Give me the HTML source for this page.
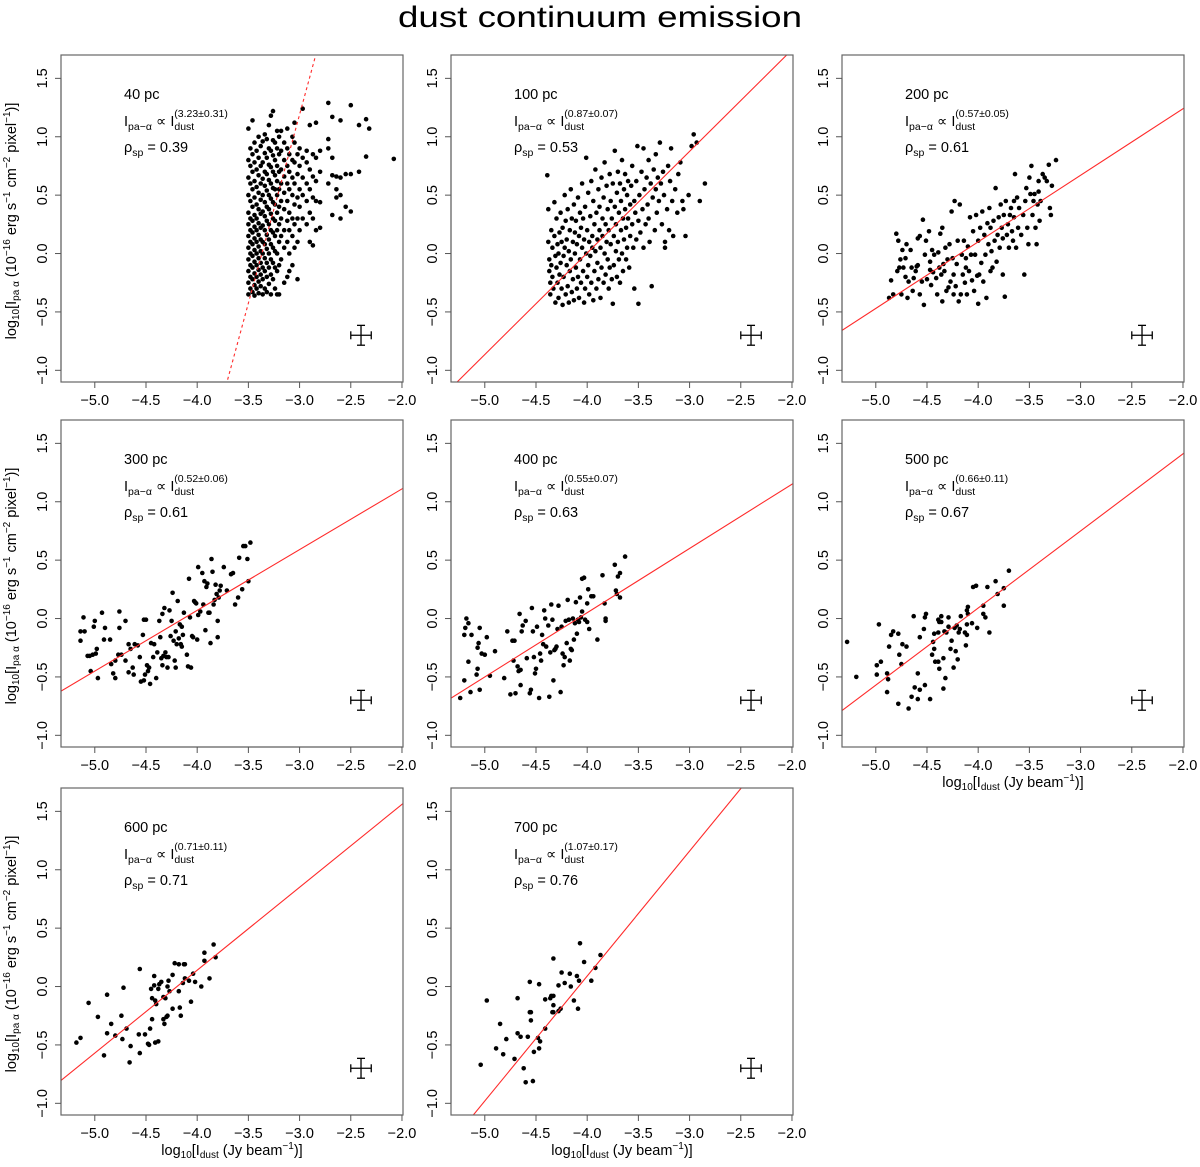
<!DOCTYPE html>
<html><head><meta charset="utf-8"><title>dust continuum emission</title>
<style>
html,body{margin:0;padding:0;background:#fff;}
svg{display:block;font-family:"Liberation Sans",Arial,sans-serif;}
</style></head>
<body>
<svg id="fig" width="1200" height="1167" viewBox="0 0 1200 1167" xmlns="http://www.w3.org/2000/svg">
<text x="600" y="27" text-anchor="middle" font-size="30" textLength="404" lengthAdjust="spacingAndGlyphs">dust continuum emission</text>
</svg>
<script>
// ---- data ----
const panelLabels = ["40 pc","100 pc","200 pc","300 pc","400 pc","500 pc","600 pc","700 pc"];
const slopes = [3.23,0.87,0.57,0.52,0.55,0.66,0.71,1.07];
const slopeErrs = [0.31,0.07,0.05,0.06,0.07,0.11,0.11,0.17];
const intercepts = [10.88,3.485,2.38,2.15,2.25,2.73,2.98,4.37];
const rhos = ["0.39","0.53","0.61","0.61","0.63","0.67","0.71","0.76"];
const xTicks = [-5.0,-4.5,-4.0,-3.5,-3.0,-2.5,-2.0];
const xTickLabels = ["\u22125.0","\u22124.5","\u22124.0","\u22123.5","\u22123.0","\u22122.5","\u22122.0"];
const yTicks = [-1.0,-0.5,0.0,0.5,1.0,1.5];
const yTickLabels = ["\u22121.0","\u22120.5","0.0","0.5","1.0","1.5"];
const errBarCenter = [-2.4,-0.7];
const errBarHalf = [0.1,0.085];

// 40 pc: columns of points {x, ys}
const p40Cols = [
[-3.50,[-0.35,-0.25,-0.15,-0.05,0.05,0.15,0.25,0.35,0.5,0.65,0.8,1.07]],
[-3.48,[-0.3,-0.2,-0.1,0.0,0.1,0.2,0.3,0.45,0.6,0.75,0.9]],
[-3.46,[-0.33,-0.22,-0.12,-0.02,0.08,0.18,0.28,0.4,0.55,0.7,0.85,1.14]],
[-3.44,[-0.36,-0.27,-0.17,-0.07,0.03,0.13,0.23,0.33,0.48,0.62,0.78,0.95]],
[-3.42,[-0.3,-0.2,-0.1,0.0,0.1,0.2,0.3,0.42,0.57,0.72,0.88]],
[-3.40,[-0.34,-0.24,-0.14,-0.04,0.06,0.16,0.26,0.38,0.52,0.67,0.82,1.0]],
[-3.38,[-0.28,-0.18,-0.08,0.02,0.12,0.22,0.34,0.46,0.6,0.75,0.92]],
[-3.36,[-0.35,-0.22,-0.12,0.0,0.1,0.24,0.36,0.5,0.64,0.78,0.96]],
[-3.34,[-0.3,-0.15,-0.04,0.08,0.2,0.32,0.44,0.58,0.7,0.86,1.02]],
[-3.32,[-0.33,-0.2,-0.08,0.04,0.16,0.28,0.4,0.54,0.68,0.82,0.98]],
[-3.30,[-0.26,-0.12,0.0,0.12,0.25,0.38,0.5,0.63,0.76,0.9,1.1]],
[-3.28,[-0.35,-0.18,-0.05,0.08,0.2,0.34,0.47,0.6,0.74,0.88,1.18]],
[-3.26,[-0.22,-0.08,0.05,0.18,0.3,0.44,0.56,0.7,0.84,0.97,1.22]],
[-3.24,[-0.3,-0.12,0.02,0.15,0.28,0.42,0.55,0.67,0.8,0.95]],
[-3.22,[-0.35,-0.15,0.0,0.2,0.35,0.5,0.62,0.75,0.9,1.05]],
[-3.20,[-0.35,-0.1,0.1,0.25,0.4,0.55,0.7,0.85,1.0]],
[-3.18,[-0.05,0.15,0.3,0.45,0.6,0.72,0.88,1.05]],
[-3.15,[-0.25,0.05,0.2,0.38,0.52,0.66,0.8,0.95]],
[-3.12,[-0.2,0.1,0.28,0.45,0.6,0.75,0.9,1.07]],
[-3.10,[-0.15,0.0,0.2,0.35,0.55,0.7,0.85]],
[-3.07,[-0.1,0.15,0.3,0.5,0.65,0.8,1.0]],
[-3.05,[0.05,0.25,0.42,0.6,0.78,0.95,1.12]],
[-3.02,[-0.22,0.1,0.3,0.48,0.68,0.85]],
[-3.00,[0.2,0.4,0.55,0.75,0.9]],
[-2.97,[0.3,0.5,0.65,0.82,1.24]],
[-2.93,[0.25,0.45,0.6,0.78,0.88]],
[-2.90,[0.1,0.35,0.55,0.72,1.1]],
[-2.87,[0.07,0.3,0.48,0.66,0.85]],
[-2.84,[0.2,0.45,0.62,0.82,1.12]],
[-2.80,[0.22,0.44,0.7,0.88]],
[-2.72,[0.6,0.98,1.29,0.9]],
[-2.68,[0.33,0.67,0.82,1.17]],
[-2.64,[0.48,0.55,0.66]],
[-2.60,[0.3,0.5,0.65,1.14]],
[-2.55,[0.4,0.68]],
[-2.50,[1.27,0.36,0.68]],
[-2.42,[1.1,0.7]],
[-2.35,[1.15,0.83]],
[-2.32,[1.07]],
[-2.08,[0.81]]
];

const p100 = [[-4.39,0.67],[-4.38,0.38],[-4.38,0.1],[-4.37,-0.05],[-4.37,-0.15],[-4.36,-0.25],[-4.36,-0.35],[-4.35,0.2],[-4.35,-0.1],[-4.34,0.05],[-4.34,-0.2],[-4.33,-0.3],[-4.32,0.44],[-4.32,0.15],[-4.31,-0.42],[-4.31,-0.02],[-4.30,0.3],[-4.30,-0.12],[-4.29,0.08],[-4.29,-0.25],[-4.28,-0.38],[-4.28,0.0],[-4.27,0.18],[-4.27,-0.18],[-4.26,0.35],[-4.26,-0.08],[-4.25,-0.3],[-4.25,0.1],[-4.24,-0.44],[-4.24,0.22],[-4.23,-0.02],[-4.23,-0.2],[-4.22,0.5],[-4.22,0.05],[-4.21,-0.35],[-4.21,0.28],[-4.20,-0.1],[-4.20,0.12],[-4.19,-0.28],[-4.19,0.38],[-4.18,-0.42],[-4.18,0.02],[-4.17,0.2],[-4.17,-0.15],[-4.16,0.55],[-4.16,-0.05],[-4.15,0.3],[-4.15,-0.33],[-4.14,0.1],[-4.14,-0.22],[-4.13,0.42],[-4.13,-0.4],[-4.12,0.0],[-4.12,0.18],[-4.11,-0.12],[-4.11,0.28],[-4.10,-0.3],[-4.10,0.08],[-4.09,0.48],[-4.09,-0.2],[-4.08,0.15],[-4.08,-0.38],[-4.07,0.35],[-4.07,-0.05],[-4.06,0.22],[-4.06,-0.25],[-4.05,0.05],[-4.05,0.6],[-4.04,-0.15],[-4.04,0.3],[-4.03,-0.42],[-4.03,0.12],[-4.02,-0.3],[-4.02,0.4],[-4.01,0.82],[-4.01,0.0],[-4.00,0.2],[-4.00,-0.2],[-3.99,0.52],[-3.99,-0.1],[-3.98,0.1],[-3.98,-0.35],[-3.97,0.32],[-3.97,-0.02],[-3.96,0.62],[-3.96,-0.25],[-3.95,0.15],[-3.95,0.05],[-3.94,-0.4],[-3.94,0.45],[-3.93,0.25],[-3.93,-0.15],[-3.92,0.72],[-3.92,0.02],[-3.91,-0.3],[-3.91,0.35],[-3.90,0.12],[-3.90,-0.08],[-3.89,0.55],[-3.89,-0.22],[-3.88,0.2],[-3.88,0.4],[-3.87,-0.38],[-3.87,0.05],[-3.86,0.65],[-3.86,-0.12],[-3.85,0.3],[-3.85,0.15],[-3.84,-0.25],[-3.84,0.48],[-3.83,0.0],[-3.83,0.78],[-3.82,0.25],[-3.82,-0.18],[-3.81,0.1],[-3.81,0.58],[-3.80,-0.05],[-3.80,0.38],[-3.79,-0.3],[-3.79,0.2],[-3.78,0.68],[-3.78,-0.12],[-3.77,0.45],[-3.77,0.08],[-3.76,-0.22],[-3.76,0.3],[-3.75,0.6],[-3.75,-0.43],[-3.74,0.15],[-3.74,-0.1],[-3.73,0.88],[-3.73,0.4],[-3.72,0.02],[-3.72,0.25],[-3.71,-0.2],[-3.71,0.52],[-3.70,0.7],[-3.70,0.1],[-3.69,-0.05],[-3.69,0.35],[-3.68,0.6],[-3.68,-0.25],[-3.67,0.2],[-3.67,0.45],[-3.66,0.8],[-3.66,0.0],[-3.65,0.3],[-3.65,-0.15],[-3.64,0.55],[-3.64,0.12],[-3.63,0.68],[-3.63,0.38],[-3.62,-0.05],[-3.62,0.22],[-3.61,0.5],[-3.61,0.05],[-3.60,0.62],[-3.60,0.3],[-3.59,-0.12],[-3.58,0.42],[-3.58,0.15],[-3.57,0.58],[-3.56,0.25],[-3.56,0.75],[-3.55,0.05],[-3.54,0.45],[-3.54,-0.3],[-3.53,0.35],[-3.52,0.62],[-3.52,0.12],[-3.51,0.92],[-3.50,0.28],[-3.50,-0.43],[-3.49,0.5],[-3.48,0.18],[-3.47,0.7],[-3.46,0.38],[-3.45,0.05],[-3.45,0.9],[-3.44,0.55],[-3.43,0.25],[-3.42,0.65],[-3.41,0.42],[-3.40,0.8],[-3.40,0.3],[-3.39,0.1],[-3.38,0.6],[-3.37,-0.28],[-3.36,0.48],[-3.35,0.72],[-3.34,0.2],[-3.33,0.85],[-3.33,0.55],[-3.32,0.35],[-3.31,0.65],[-3.30,0.45],[-3.29,0.95],[-3.28,0.6],[-3.27,0.25],[-3.26,0.7],[-3.25,0.5],[-3.24,0.1],[-3.24,0.05],[-3.22,0.38],[-3.21,0.75],[-3.20,0.2],[-3.19,0.62],[-3.18,0.9],[-3.17,0.45],[-3.16,0.15],[-3.14,0.55],[-3.12,0.35],[-3.11,0.68],[-3.09,0.78],[-3.07,0.45],[-3.06,0.38],[-3.04,0.15],[-3.01,0.5],[-2.98,0.92],[-2.96,1.02],[-2.93,0.95],[-2.90,0.45],[-2.85,0.6]];

const p200 = [[-4.87,-0.38],[-4.85,-0.23],[-4.83,-0.35],[-4.80,0.17],[-4.79,-0.15],[-4.78,0.11],[-4.77,-0.12],[-4.76,-0.05],[-4.75,-0.35],[-4.74,0.03],[-4.73,-0.12],[-4.71,-0.20],[-4.71,-0.04],[-4.70,0.08],[-4.69,-0.38],[-4.68,-0.24],[-4.66,0.03],[-4.65,-0.12],[-4.64,-0.32],[-4.63,-0.21],[-4.61,-0.15],[-4.60,-0.11],[-4.59,-0.10],[-4.59,0.13],[-4.57,0.15],[-4.57,-0.35],[-4.55,-0.24],[-4.54,0.29],[-4.53,-0.44],[-4.52,-0.01],[-4.51,0.11],[-4.50,-0.22],[-4.48,0.19],[-4.47,-0.14],[-4.47,-0.07],[-4.46,-0.27],[-4.45,0.03],[-4.44,-0.16],[-4.43,-0.01],[-4.41,-0.21],[-4.40,-0.35],[-4.39,0.01],[-4.38,-0.12],[-4.37,0.17],[-4.36,-0.18],[-4.35,-0.41],[-4.35,0.22],[-4.34,-0.09],[-4.33,-0.15],[-4.32,0.05],[-4.31,-0.32],[-4.30,-0.05],[-4.29,-0.29],[-4.28,0.08],[-4.27,-0.24],[-4.26,0.36],[-4.25,-0.04],[-4.24,-0.35],[-4.24,-0.18],[-4.23,0.45],[-4.22,-0.28],[-4.21,-0.09],[-4.20,0.11],[-4.19,-0.41],[-4.18,0.42],[-4.17,-0.35],[-4.16,-0.01],[-4.15,-0.18],[-4.14,0.11],[-4.13,-0.25],[-4.12,-0.04],[-4.12,-0.12],[-4.11,-0.35],[-4.10,0.06],[-4.09,-0.15],[-4.08,0.31],[-4.07,-0.01],[-4.06,-0.23],[-4.05,0.19],[-4.04,-0.32],[-4.03,-0.01],[-4.02,0.33],[-4.01,-0.19],[-4.00,-0.43],[-4.00,0.11],[-3.99,-0.18],[-3.98,0.22],[-3.97,-0.08],[-3.96,0.36],[-3.95,-0.24],[-3.94,0.16],[-3.93,-0.01],[-3.92,-0.38],[-3.91,0.26],[-3.90,0.08],[-3.89,0.39],[-3.88,-0.15],[-3.88,0.22],[-3.87,0.02],[-3.86,-0.12],[-3.85,0.28],[-3.84,0.11],[-3.83,0.56],[-3.82,-0.07],[-3.81,0.16],[-3.80,0.31],[-3.79,0.05],[-3.78,0.42],[-3.77,0.22],[-3.76,-0.18],[-3.76,0.13],[-3.75,0.33],[-3.74,-0.37],[-3.73,0.45],[-3.72,0.16],[-3.71,0.25],[-3.70,0.05],[-3.69,0.33],[-3.68,0.39],[-3.67,0.19],[-3.66,0.11],[-3.65,0.45],[-3.65,0.31],[-3.64,0.68],[-3.63,0.05],[-3.62,0.48],[-3.61,0.22],[-3.60,0.39],[-3.58,0.16],[-3.56,0.33],[-3.55,-0.18],[-3.54,0.45],[-3.53,0.56],[-3.52,0.22],[-3.51,0.08],[-3.50,0.65],[-3.49,0.51],[-3.48,0.75],[-3.47,0.33],[-3.46,0.45],[-3.45,0.51],[-3.44,0.22],[-3.43,0.08],[-3.42,0.42],[-3.41,0.62],[-3.41,0.53],[-3.40,0.28],[-3.39,0.45],[-3.37,0.68],[-3.35,0.65],[-3.33,0.62],[-3.31,0.76],[-3.30,0.39],[-3.29,0.33],[-3.28,0.58],[-3.24,0.80]];

const p300 = [[-5.14,-0.19],[-5.14,-0.11],[-5.10,-0.11],[-5.11,0.01],[-5.07,-0.32],[-5.05,-0.32],[-5.04,-0.45],[-5.02,-0.31],[-4.99,-0.30],[-5.01,-0.07],[-5.00,-0.02],[-4.98,-0.26],[-4.97,-0.51],[-4.93,0.05],[-4.91,-0.18],[-4.90,-0.08],[-4.85,-0.18],[-4.84,-0.39],[-4.82,-0.47],[-4.80,-0.51],[-4.80,-0.36],[-4.77,-0.31],[-4.76,-0.08],[-4.76,0.06],[-4.74,-0.31],[-4.70,-0.02],[-4.70,-0.36],[-4.67,-0.22],[-4.67,-0.46],[-4.65,-0.26],[-4.63,-0.42],[-4.62,-0.48],[-4.61,-0.22],[-4.58,-0.23],[-4.56,-0.33],[-4.55,-0.54],[-4.53,-0.14],[-4.52,-0.01],[-4.52,-0.53],[-4.51,-0.48],[-4.50,-0.01],[-4.49,-0.40],[-4.48,-0.45],[-4.47,-0.42],[-4.46,-0.56],[-4.45,-0.21],[-4.43,-0.33],[-4.42,-0.22],[-4.40,-0.51],[-4.39,-0.29],[-4.37,-0.02],[-4.36,-0.16],[-4.35,-0.34],[-4.34,-0.40],[-4.34,0.04],[-4.33,-0.32],[-4.32,0.09],[-4.31,-0.29],[-4.30,-0.33],[-4.29,-0.42],[-4.28,-0.33],[-4.27,0.07],[-4.26,-0.15],[-4.25,-0.02],[-4.24,0.22],[-4.23,-0.19],[-4.22,-0.36],[-4.21,-0.11],[-4.21,-0.42],[-4.20,-0.22],[-4.19,0.15],[-4.18,-0.17],[-4.17,-0.05],[-4.16,-0.22],[-4.15,-0.24],[-4.15,-0.07],[-4.14,-0.14],[-4.13,0.05],[-4.10,-0.31],[-4.09,-0.41],[-4.08,0.34],[-4.07,0.01],[-4.06,-0.42],[-4.05,-0.15],[-4.04,-0.16],[-4.03,0.15],[-4.02,0.14],[-4.01,0.13],[-4.00,-0.18],[-3.99,0.44],[-3.99,0.03],[-3.97,0.06],[-3.95,0.39],[-3.94,0.12],[-3.93,0.32],[-3.92,-0.10],[-3.91,0.27],[-3.90,0.30],[-3.89,0.05],[-3.88,0.05],[-3.87,-0.21],[-3.86,0.51],[-3.85,0.40],[-3.84,0.12],[-3.83,0.16],[-3.82,0.29],[-3.81,0.21],[-3.80,-0.02],[-3.80,-0.16],[-3.79,0.18],[-3.78,0.24],[-3.77,0.28],[-3.74,0.44],[-3.71,0.24],[-3.67,0.38],[-3.65,0.39],[-3.63,0.12],[-3.60,0.18],[-3.59,0.52],[-3.56,0.25],[-3.55,0.62],[-3.53,0.62],[-3.51,0.51],[-3.50,0.32],[-3.48,0.65]];

const p400 = [[-5.24,-0.68],[-5.20,-0.53],[-5.20,-0.14],[-5.19,-0.08],[-5.18,0.00],[-5.16,-0.04],[-5.16,-0.37],[-5.14,-0.63],[-5.13,-0.14],[-5.08,-0.48],[-5.07,-0.43],[-5.07,-0.25],[-5.06,-0.21],[-5.05,-0.61],[-5.05,-0.08],[-5.03,-0.30],[-5.00,-0.31],[-4.98,-0.16],[-4.95,-0.49],[-4.90,-0.28],[-4.81,-0.51],[-4.78,-0.11],[-4.75,-0.65],[-4.73,-0.19],[-4.71,-0.19],[-4.72,-0.36],[-4.70,-0.64],[-4.68,-0.41],[-4.67,-0.45],[-4.66,0.04],[-4.65,-0.57],[-4.65,-0.44],[-4.64,-0.11],[-4.63,-0.06],[-4.60,-0.02],[-4.59,-0.34],[-4.56,-0.64],[-4.55,-0.61],[-4.54,0.09],[-4.53,-0.11],[-4.52,-0.33],[-4.51,-0.47],[-4.50,-0.43],[-4.49,-0.07],[-4.47,-0.68],[-4.46,-0.30],[-4.45,-0.36],[-4.44,-0.14],[-4.43,-0.22],[-4.42,0.07],[-4.41,0.00],[-4.40,-0.24],[-4.38,-0.06],[-4.37,-0.67],[-4.36,-0.29],[-4.35,0.12],[-4.34,-0.01],[-4.33,-0.53],[-4.32,-0.27],[-4.31,-0.26],[-4.30,-0.24],[-4.29,-0.09],[-4.28,0.11],[-4.26,-0.63],[-4.25,-0.07],[-4.24,-0.30],[-4.23,-0.40],[-4.22,-0.33],[-4.21,-0.02],[-4.20,-0.21],[-4.19,0.16],[-4.18,-0.01],[-4.17,-0.36],[-4.16,-0.26],[-4.15,-0.27],[-4.14,0.00],[-4.13,-0.18],[-4.12,-0.04],[-4.11,0.14],[-4.10,-0.13],[-4.09,-0.01],[-4.08,-0.03],[-4.07,0.18],[-4.06,0.01],[-4.05,0.06],[-4.05,0.34],[-4.03,0.35],[-4.02,-0.01],[-4.00,0.13],[-4.00,-0.03],[-3.99,0.25],[-3.98,-0.09],[-3.96,0.19],[-3.94,0.19],[-3.90,-0.18],[-3.85,0.37],[-3.83,0.13],[-3.82,0.00],[-3.82,-0.02],[-3.73,0.46],[-3.72,0.24],[-3.71,0.21],[-3.70,0.36],[-3.68,0.39],[-3.68,0.18],[-3.63,0.53]];

const p500 = [[-5.28,-0.20],[-5.19,-0.50],[-4.99,-0.40],[-4.99,-0.48],[-4.97,-0.05],[-4.95,-0.37],[-4.89,-0.47],[-4.89,-0.63],[-4.88,-0.52],[-4.87,-0.24],[-4.85,-0.14],[-4.83,-0.11],[-4.78,-0.73],[-4.78,-0.13],[-4.77,-0.31],[-4.75,-0.39],[-4.74,-0.22],[-4.70,-0.24],[-4.68,-0.77],[-4.65,-0.67],[-4.63,0.02],[-4.62,-0.59],[-4.59,-0.47],[-4.59,-0.69],[-4.57,-0.16],[-4.57,-0.61],[-4.53,-0.09],[-4.52,-0.57],[-4.52,0.01],[-4.51,0.04],[-4.47,-0.69],[-4.45,-0.31],[-4.44,-0.20],[-4.43,-0.26],[-4.43,-0.13],[-4.42,-0.37],[-4.39,-0.12],[-4.39,-0.37],[-4.39,-0.01],[-4.38,-0.03],[-4.38,-0.43],[-4.36,0.02],[-4.36,-0.03],[-4.34,-0.60],[-4.34,-0.34],[-4.33,-0.11],[-4.32,-0.51],[-4.31,-0.12],[-4.29,0.01],[-4.29,-0.07],[-4.27,-0.26],[-4.26,-0.19],[-4.24,-0.42],[-4.23,-0.08],[-4.22,-0.28],[-4.21,-0.06],[-4.20,-0.35],[-4.19,-0.12],[-4.18,-0.09],[-4.17,0.02],[-4.13,-0.12],[-4.12,-0.23],[-4.11,-0.14],[-4.11,-0.05],[-4.11,0.07],[-4.10,0.04],[-4.10,0.10],[-4.06,-0.04],[-4.05,0.27],[-4.02,0.28],[-4.01,-0.08],[-3.95,0.11],[-3.95,0.04],[-3.93,0.01],[-3.91,0.27],[-3.89,-0.12],[-3.83,0.32],[-3.81,0.21],[-3.75,0.26],[-3.75,0.11],[-3.70,0.41]];

const p600 = [[-5.18,-0.48],[-5.14,-0.44],[-5.06,-0.14],[-4.97,-0.26],[-4.91,-0.59],[-4.88,-0.40],[-4.88,-0.07],[-4.84,-0.32],[-4.80,-0.42],[-4.74,-0.25],[-4.73,-0.45],[-4.72,-0.01],[-4.69,-0.36],[-4.66,-0.65],[-4.65,-0.51],[-4.57,-0.41],[-4.56,0.15],[-4.56,-0.57],[-4.51,-0.41],[-4.48,-0.49],[-4.47,-0.50],[-4.46,-0.36],[-4.45,-0.02],[-4.44,-0.28],[-4.44,-0.10],[-4.42,0.01],[-4.42,0.09],[-4.41,-0.48],[-4.41,-0.12],[-4.40,-0.15],[-4.38,-0.47],[-4.38,-0.02],[-4.37,0.02],[-4.35,0.04],[-4.33,-0.28],[-4.33,-0.09],[-4.32,-0.32],[-4.31,-0.10],[-4.30,-0.26],[-4.29,0.00],[-4.29,-0.25],[-4.28,0.05],[-4.27,-0.04],[-4.24,0.10],[-4.24,-0.19],[-4.22,0.20],[-4.18,0.19],[-4.18,-0.04],[-4.17,-0.18],[-4.16,-0.25],[-4.14,0.03],[-4.13,0.19],[-4.12,0.19],[-4.12,0.07],[-4.08,0.05],[-4.06,-0.13],[-4.04,0.11],[-4.02,0.04],[-3.96,0.00],[-3.93,0.29],[-3.93,0.22],[-3.88,0.07],[-3.84,0.36],[-3.82,0.25]];

const p700 = [[-5.04,-0.67],[-4.98,-0.12],[-4.89,-0.53],[-4.85,-0.32],[-4.82,-0.58],[-4.79,-0.45],[-4.71,-0.62],[-4.68,-0.40],[-4.68,-0.10],[-4.65,-0.43],[-4.62,-0.70],[-4.60,-0.82],[-4.58,-0.43],[-4.56,0.04],[-4.56,-0.22],[-4.55,-0.22],[-4.55,-0.29],[-4.53,-0.81],[-4.52,-0.56],[-4.48,-0.44],[-4.46,-0.47],[-4.47,-0.53],[-4.47,0.02],[-4.41,-0.36],[-4.41,-0.11],[-4.36,-0.10],[-4.35,-0.08],[-4.33,-0.08],[-4.33,0.24],[-4.33,-0.16],[-4.34,-0.22],[-4.33,-0.22],[-4.28,0.01],[-4.28,-0.21],[-4.26,-0.19],[-4.25,0.12],[-4.22,0.03],[-4.17,0.11],[-4.16,0.00],[-4.13,-0.12],[-4.10,0.09],[-4.09,-0.19],[-4.08,0.05],[-4.07,0.37],[-4.03,0.21],[-3.96,0.05],[-3.92,0.16],[-3.87,0.27]];

// ---- layout ----
const colLeft = [61,451,842];
const rowTop = [55,420,788];
const PW = 342, PH = 327;
const xMin = -5.33, xMax = -1.99, yMin = -1.10, yMax = 1.70;
const NS = "http://www.w3.org/2000/svg";
const svg = document.getElementById('fig');

function mk(tag, attrs, parent){
  const e = document.createElementNS(NS, tag);
  for (const k in attrs) e.setAttribute(k, attrs[k]);
  (parent||svg).appendChild(e);
  return e;
}

function expand40(){
  const out = [];
  for (const c of p40Cols) for (const y of c[1]) out.push([c[0], y]);
  return out;
}
const allPoints = [expand40(), p100, p200, p300, p400, p500, p600, p700];
const showXLabel = [false,false,false,false,false,true,true,true];

function yLabel(g, cx, cy){
  const t = mk('text', {transform:`translate(${cx},${cy}) rotate(-90)`, 'text-anchor':'middle', 'font-size':'14.5'}, g);
  
  
  t.innerHTML = 'log<tspan font-size="10" dy="3">10</tspan><tspan dy="-3">[I</tspan><tspan font-size="10" dy="3">pa \u03b1</tspan><tspan dy="-3"> (10</tspan><tspan font-size="10" dy="-6">\u221216</tspan><tspan dy="6"> erg s</tspan><tspan font-size="10" dy="-6">\u22121</tspan><tspan dy="6"> cm</tspan><tspan font-size="10" dy="-6">\u22122</tspan><tspan dy="6"> pixel</tspan><tspan font-size="10" dy="-6">\u22121</tspan><tspan dy="6">)]</tspan>';
}
function xLabel(g, cx, cy){
  const t = mk('text', {x:cx, y:cy, 'text-anchor':'middle', 'font-size':'14.5'}, g);
  
  
  t.innerHTML = 'log<tspan font-size="10" dy="3">10</tspan><tspan dy="-3">[I</tspan><tspan font-size="10" dy="3">dust</tspan><tspan dy="-3"> (Jy beam</tspan><tspan font-size="10" dy="-6">\u22121</tspan><tspan dy="6">)]</tspan>';
}

for (let i = 0; i < 8; i++){
  const L = colLeft[i % 3], T = rowTop[Math.floor(i / 3)];
  const sx = v => L + (v - xMin) / (xMax - xMin) * PW;
  const sy = v => T + (yMax - v) / (yMax - yMin) * PH;
  const g = mk('g', {});
  
  

  const cp = mk('clipPath', {id:'clip' + i}, g);
  mk('rect', {x:L, y:T, width:PW, height:PH}, cp);

  // points
  const pg = mk('g', {fill:'#000'}, g);
  
  
  for (const p of allPoints[i]){
    const c = mk('circle', {cx:sx(p[0]).toFixed(1), cy:sy(p[1]).toFixed(1), r:'2.3'}, pg);
    
    
  }

  // fit line
  const ln = mk('line', {x1:sx(xMin), y1:sy(slopes[i]*xMin + intercepts[i]), x2:sx(xMax), y2:sy(slopes[i]*xMax + intercepts[i]),
    stroke:'#ff2a2a', 'stroke-width':'1.1', 'clip-path':`url(#clip${i})`}, g);
  if (i === 0) ln.setAttribute('stroke-dasharray', '3,3');
  
  

  // box
  const box = mk('rect', {x:L, y:T, width:PW, height:PH, fill:'none', stroke:'#666', 'stroke-width':'1.2'}, g);
  
  

  // x axis
  const xa = mk('g', {stroke:'#555', 'stroke-width':'1'}, g);
  
  
  mk('line', {x1:sx(xTicks[0]), x2:sx(xTicks[xTicks.length-1]), y1:T+PH, y2:T+PH}, xa);
  xTicks.forEach((v, k) => {
    mk('line', {x1:sx(v), x2:sx(v), y1:T+PH, y2:T+PH+6}, xa);
    const t = mk('text', {x:sx(v), y:T+PH+23, 'text-anchor':'middle', 'font-size':'14.5', stroke:'none', fill:'#000'}, g);
    t.textContent = xTickLabels[k];
    
    
  });

  // y axis
  const ya = mk('g', {stroke:'#555', 'stroke-width':'1'}, g);
  
  
  mk('line', {x1:L, x2:L, y1:sy(yTicks[0]), y2:sy(yTicks[yTicks.length-1])}, ya);
  yTicks.forEach((v, k) => {
    mk('line', {x1:L-6, x2:L, y1:sy(v), y2:sy(v)}, ya);
    const t = mk('text', {transform:`translate(${L-14},${sy(v)}) rotate(-90)`, 'text-anchor':'middle', 'font-size':'14.5'}, g);
    t.textContent = yTickLabels[k];
    
    
  });

  // annotations
  const a1 = mk('text', {x:L+63, y:T+44, 'font-size':'14.5'}, g);
  a1.textContent = panelLabels[i];
  
  
  const a2 = mk('text', {x:L+63, y:T+71, 'font-size':'14.5'}, g);
  a2.innerHTML = 'I<tspan font-size="10.5" dy="4">pa\u2212\u03b1</tspan><tspan dy="-4"> \u221d I</tspan><tspan font-size="10.5" dy="4">dust</tspan><tspan font-size="10.5" dx="-20" dy="-13">(' + slopes[i].toFixed(2) + '\u00b1' + slopeErrs[i].toFixed(2) + ')</tspan>';
  
  
  const a3 = mk('text', {x:L+63, y:T+97, 'font-size':'14.5'}, g);
  a3.innerHTML = '\u03c1<tspan font-size="10.5" dy="4">sp</tspan><tspan dy="-4"> = ' + rhos[i] + '</tspan>';
  
  

  // error bar
  const eg = mk('g', {stroke:'#000', 'stroke-width':'1.3'}, g);
  
  
  const ex = sx(errBarCenter[0]), ey = sy(errBarCenter[1]);
  const hx = sx(errBarCenter[0] + errBarHalf[0]) - ex, hy = ey - sy(errBarCenter[1] + errBarHalf[1]);
  mk('line', {x1:ex-hx, x2:ex+hx, y1:ey, y2:ey}, eg);
  mk('line', {x1:ex, x2:ex, y1:ey-hy, y2:ey+hy}, eg);
  mk('line', {x1:ex-hx, x2:ex-hx, y1:ey-4, y2:ey+4}, eg);
  mk('line', {x1:ex+hx, x2:ex+hx, y1:ey-4, y2:ey+4}, eg);
  mk('line', {x1:ex-4, x2:ex+4, y1:ey-hy, y2:ey-hy}, eg);
  mk('line', {x1:ex-4, x2:ex+4, y1:ey+hy, y2:ey+hy}, eg);

  if (i % 3 === 0) yLabel(g, L-45, T+166);
  if (showXLabel[i]) xLabel(g, L+PW/2, T+PH+40);
}
</script>
</body></html>
